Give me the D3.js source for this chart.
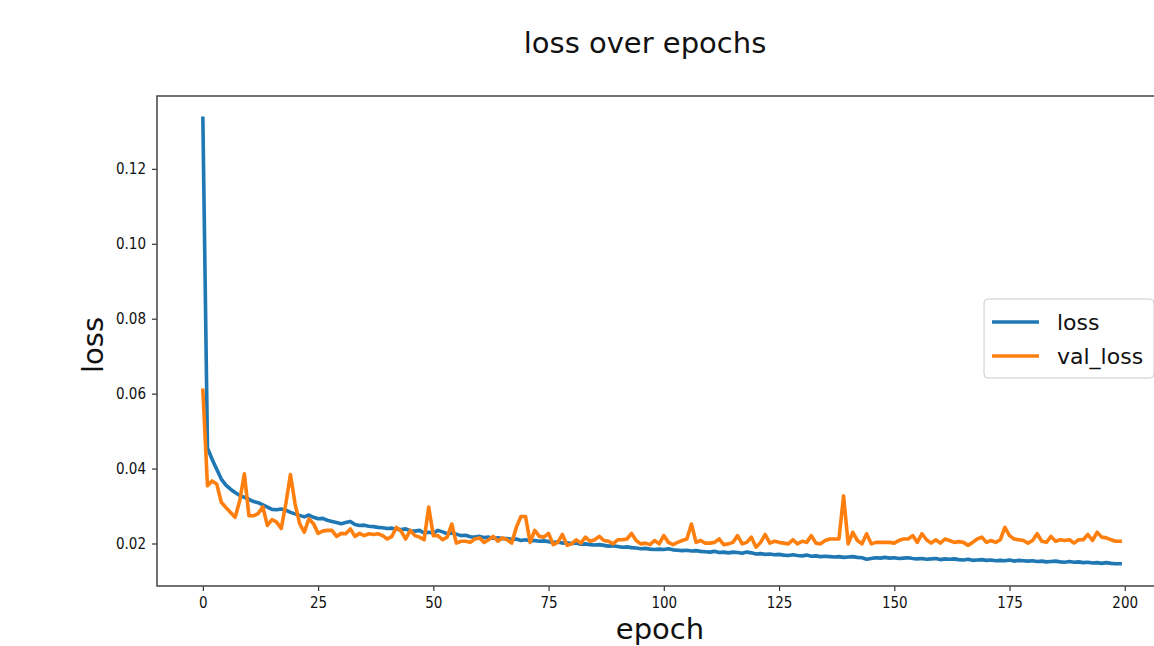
<!DOCTYPE html>
<html>
<head>
<meta charset="utf-8">
<script src="https://cdn.jsdelivr.net/npm/d3@7"></script>
<style>
  html, body { margin: 0; padding: 0; background: #fff; overflow: hidden; }
  text { font-family: "DejaVu Sans", sans-serif; fill: #111; }
</style>
</head>
<body>
<div id="chart"></div>
<script>
// per-epoch values
const loss = [
	0.1335, 0.0455, 0.0425, 0.0398, 0.0372, 0.0356, 0.0345, 0.0336, 0.0328, 0.0323,
	0.0318, 0.0312, 0.0309, 0.0303, 0.0297, 0.0291, 0.0290, 0.0292, 0.0289, 0.0283,
	0.0279, 0.0275, 0.0271, 0.0276, 0.0270, 0.0266, 0.0267, 0.0262, 0.0259, 0.0256,
	0.0253, 0.0256, 0.0259, 0.0251, 0.0248, 0.0249, 0.0246, 0.0245, 0.0243, 0.0242,
	0.0240, 0.0241, 0.0238, 0.0237, 0.0239, 0.0234, 0.0233, 0.0235, 0.0228, 0.0230,
	0.0228, 0.0235, 0.0231, 0.0226, 0.0228, 0.0225, 0.0221, 0.0222, 0.0218, 0.0217,
	0.0219, 0.0216, 0.0217, 0.0214, 0.0215, 0.0213, 0.0213, 0.0211, 0.0212, 0.0208,
	0.0210, 0.0207, 0.0208, 0.0206, 0.0207, 0.0205, 0.0203, 0.0204, 0.0201, 0.0202,
	0.0200, 0.0201, 0.0198, 0.0199, 0.0197, 0.0196, 0.0197, 0.0195, 0.0193, 0.0194,
	0.0192, 0.0190, 0.0191, 0.0189, 0.0188, 0.0186, 0.0187, 0.0185, 0.0184, 0.0185,
	0.0184, 0.0186, 0.0183, 0.0182, 0.0181, 0.0182, 0.0180, 0.0181, 0.0179, 0.0178,
	0.0177, 0.0179, 0.0176, 0.0177, 0.0175, 0.0177, 0.0176, 0.0174, 0.0177, 0.0175,
	0.0172, 0.0173, 0.0171, 0.0172, 0.0170, 0.0171, 0.0169, 0.0168, 0.0170, 0.0168,
	0.0167, 0.0169, 0.0166, 0.0167, 0.0165, 0.0166, 0.0165, 0.0164, 0.0165, 0.0163,
	0.0164, 0.0165, 0.0163, 0.0162, 0.0158, 0.0160, 0.0162, 0.0161, 0.0163, 0.0161,
	0.0162, 0.0160, 0.0161, 0.0162, 0.0160, 0.0159, 0.0160, 0.0158, 0.0159, 0.0160,
	0.0157, 0.0159, 0.0158, 0.0159, 0.0157, 0.0156, 0.0158, 0.0155, 0.0156, 0.0157,
	0.0155, 0.0156, 0.0154, 0.0155, 0.0154, 0.0156, 0.0153, 0.0155, 0.0154, 0.0153,
	0.0154, 0.0152, 0.0153, 0.0151, 0.0152, 0.0153, 0.0151, 0.0150, 0.0152, 0.0150,
	0.0151, 0.0149, 0.0150, 0.0148, 0.0149, 0.0147, 0.0149, 0.0147, 0.0146, 0.0146
];
const valLoss = [
	0.0609, 0.0354, 0.0367, 0.0359, 0.0310, 0.0296, 0.0283, 0.0270, 0.0314, 0.0386,
	0.0274, 0.0274, 0.0280, 0.0298, 0.0248, 0.0264, 0.0257, 0.0240, 0.0306, 0.0384,
	0.0306, 0.0253, 0.0230, 0.0266, 0.0253, 0.0227, 0.0233, 0.0235, 0.0235, 0.0219,
	0.0227, 0.0226, 0.0239, 0.0219, 0.0227, 0.0221, 0.0226, 0.0224, 0.0226, 0.0221,
	0.0212, 0.0219, 0.0243, 0.0233, 0.0212, 0.0235, 0.0221, 0.0217, 0.0210, 0.0297,
	0.0221, 0.0221, 0.0210, 0.0217, 0.0252, 0.0201, 0.0206, 0.0206, 0.0203, 0.0212,
	0.0215, 0.0203, 0.0210, 0.0219, 0.0206, 0.0215, 0.0210, 0.0201, 0.0243, 0.0272,
	0.0272, 0.0203, 0.0235, 0.0219, 0.0217, 0.0227, 0.0197, 0.0203, 0.0224, 0.0195,
	0.0199, 0.0210, 0.0201, 0.0217, 0.0206, 0.0210, 0.0219, 0.0208, 0.0206, 0.0199,
	0.0210, 0.0210, 0.0212, 0.0227, 0.0208, 0.0199, 0.0201, 0.0197, 0.0208, 0.0199,
	0.0221, 0.0203, 0.0197, 0.0203, 0.0208, 0.0212, 0.0252, 0.0203, 0.0208, 0.0201,
	0.0201, 0.0203, 0.0212, 0.0197, 0.0199, 0.0203, 0.0221, 0.0199, 0.0203, 0.0217,
	0.0190, 0.0203, 0.0224, 0.0201, 0.0206, 0.0203, 0.0201, 0.0199, 0.0210, 0.0199,
	0.0206, 0.0203, 0.0221, 0.0201, 0.0199, 0.0208, 0.0212, 0.0212, 0.0212, 0.0327,
	0.0199, 0.0230, 0.0208, 0.0199, 0.0226, 0.0199, 0.0203, 0.0203, 0.0203, 0.0203,
	0.0201, 0.0208, 0.0212, 0.0212, 0.0221, 0.0203, 0.0226, 0.0210, 0.0201, 0.0210,
	0.0201, 0.0212, 0.0208, 0.0203, 0.0205, 0.0203, 0.0195, 0.0203, 0.0212, 0.0217,
	0.0203, 0.0208, 0.0203, 0.0210, 0.0243, 0.0221, 0.0212, 0.0210, 0.0208, 0.0201,
	0.0208, 0.0226, 0.0206, 0.0203, 0.0219, 0.0206, 0.0210, 0.0208, 0.0210, 0.0201,
	0.0210, 0.0210, 0.0224, 0.0208, 0.0230, 0.0217, 0.0215, 0.0210, 0.0206, 0.0206
];
const seriesNames = ["loss", "val_loss"];
const xTicks = [0, 25, 50, 75, 100, 125, 150, 175, 200];
const yTicks = [0.02, 0.04, 0.06, 0.08, 0.10, 0.12];

const width = 1154, height = 646;
const margin = { left: 157, top: 96, right: 1166, bottom: 586 };
const colors = { "loss": "#1f77b4", "val_loss": "#ff7f0e" };

const series = [
	{ name: seriesNames[0], values: loss },
	{ name: seriesNames[1], values: valLoss }
];

const n = loss.length;
const xPad = (n - 1) * 0.05;
const allVals = loss.concat(valLoss);
const yMin = d3.min(allVals), yMax = d3.max(allVals);
const yPad = (yMax - yMin) * 0.05;

const x = d3.scaleLinear()
	.domain([-xPad, n - 1 + xPad])
	.range([margin.left, margin.right]);
const y = d3.scaleLinear()
	.domain([yMin - yPad, yMax + yPad])
	.range([margin.bottom, margin.top]);

const svg = d3.select("#chart")
	.append("svg")
	.attr("width", width)
	.attr("height", height);

// title
svg.append("text")
	.attr("x", 645)
	.attr("y", 53)
	.attr("text-anchor", "middle")
	.style("font-size", "29px")
	.text("loss over epochs");

// lines
const line = d3.line()
	.x((d, i) => x(i))
	.y(d => y(d));

svg.append("g")
	.selectAll("path")
	.data(series)
	.enter()
	.append("path")
	.attr("d", d => line(d.values))
	.attr("fill", "none")
	.attr("stroke", d => colors[d.name])
	.attr("stroke-width", 3.6)
	.attr("stroke-linejoin", "round")
	.attr("stroke-linecap", "square");

// axes
const xAxis = d3.axisBottom(x).tickValues(xTicks).tickSize(5).tickPadding(6);
const yAxis = d3.axisLeft(y).tickValues(yTicks).tickSize(5).tickPadding(6)
	.tickFormat(d3.format(".2f"));

const gx = svg.append("g")
	.attr("transform", `translate(0, ${margin.bottom})`)
	.call(xAxis);
const gy = svg.append("g")
	.attr("transform", `translate(${margin.left}, 0)`)
	.call(yAxis);

[gx, gy].forEach(g => {
	g.select(".domain").remove();
	g.selectAll("line").attr("stroke", "#333").attr("stroke-width", 1.2);
	g.selectAll("text")
		.style("font-family", "'DejaVu Sans Condensed', 'DejaVu Sans', sans-serif")
		.style("font-size", "15px")
		.attr("fill", "#222");
});

// frame
svg.append("rect")
	.attr("x", margin.left)
	.attr("y", margin.top)
	.attr("width", margin.right - margin.left)
	.attr("height", margin.bottom - margin.top)
	.attr("fill", "none")
	.attr("stroke", "#444")
	.attr("stroke-width", 1.5);

// axis labels
svg.append("text")
	.attr("x", 660)
	.attr("y", 639)
	.attr("text-anchor", "middle")
	.style("font-size", "29px")
	.text("epoch");

svg.append("text")
	.attr("transform", "translate(103, 345) rotate(-90)")
	.attr("text-anchor", "middle")
	.style("font-size", "29px")
	.text("loss");

// legend
const legend = svg.append("g").attr("transform", "translate(984, 299)");
legend.append("rect")
	.attr("width", 170)
	.attr("height", 79)
	.attr("rx", 4)
	.attr("fill", "#fff")
	.attr("fill-opacity", 0.8)
	.attr("stroke", "#ccc");

const items = legend.selectAll(".item")
	.data(series)
	.enter()
	.append("g")
	.attr("transform", (d, i) => `translate(0, ${23 + i * 34})`);
items.append("line")
	.attr("x1", 8).attr("x2", 55)
	.attr("stroke", d => colors[d.name])
	.attr("stroke-width", 3.6);
items.append("text")
	.attr("x", 73)
	.attr("y", 8)
	.style("font-size", "22px")
	.text(d => d.name);
</script>
</body>
</html>
